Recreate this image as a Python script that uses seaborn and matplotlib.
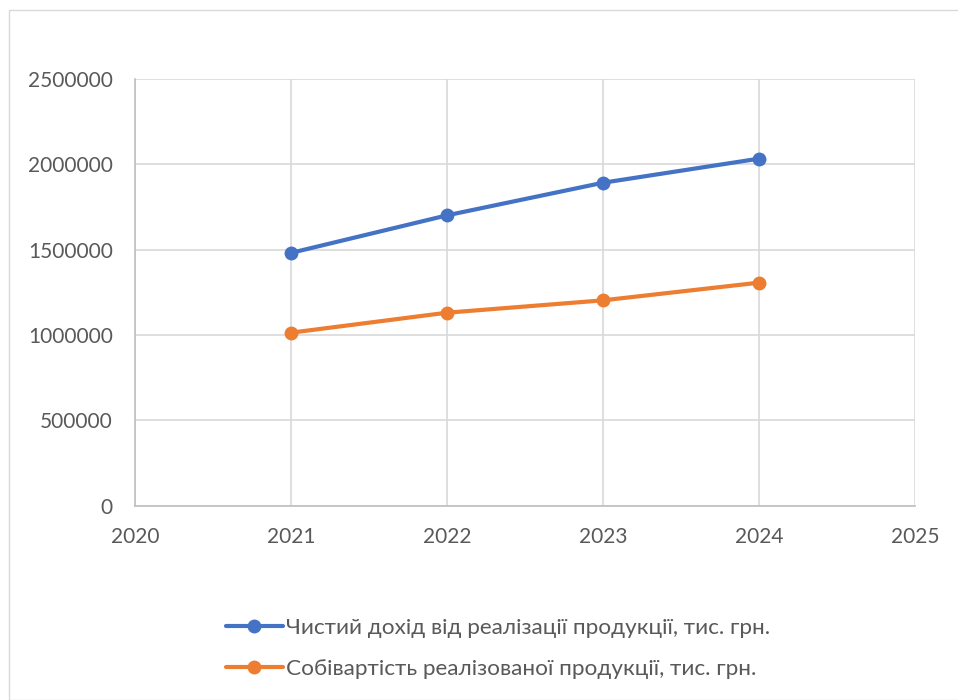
import matplotlib
matplotlib.use("Agg")
import matplotlib.pyplot as plt
import seaborn as sns
import pandas as pd
from matplotlib.patches import Rectangle

years = [2021, 2022, 2023, 2024]
revenue = [1481000, 1701000, 1892000, 2033000]
cost = [1013500, 1130700, 1203000, 1306600]
series_names = ["Чистий дохід від реалізації продукції, тис. грн.",
                "Собівартість реалізованої продукції, тис. грн."]
x_ticks = [2020, 2021, 2022, 2023, 2024, 2025]
y_ticks = [0, 500000, 1000000, 1500000, 2000000, 2500000]

df = pd.DataFrame({
    "year": years * 2,
    "value": revenue + cost,
    "series": [series_names[0]] * len(years) + [series_names[1]] * len(years),
})

sns.set_theme(style="white")
plt.rcParams['font.family'] = ['Lato', 'DejaVu Sans']

fig = plt.figure(figsize=(9.58, 7.0), dpi=100)
ax = fig.add_axes([0.1409, 0.2776, 0.8142, 0.6096])

palette = {series_names[0]: "#4472c4", series_names[1]: "#ed7d31"}
sns.lineplot(data=df, x="year", y="value", hue="series", palette=palette,
             marker="o", markersize=10, markeredgewidth=0, linewidth=3,
             ax=ax, legend=True)

ax.set_xlim(2020, 2025)
ax.set_ylim(0, 2500000)
ax.set_xticks(x_ticks)
ax.set_yticks(y_ticks)
ax.set_xticklabels([str(t) for t in x_ticks])
ax.set_yticklabels([str(t) for t in y_ticks])
ax.set_xlabel("")
ax.set_ylabel("")
ax.grid(True, color="#d9d9d9", linewidth=1.2)
ax.set_axisbelow(True)
for s in ["top", "right"]:
    ax.spines[s].set_visible(False)
for s in ["left", "bottom"]:
    ax.spines[s].set_color("#bfbfbf")
    ax.spines[s].set_linewidth(1.2)
ax.tick_params(axis="both", length=0, labelsize=15, labelcolor="#595959")
ax.tick_params(axis="y", pad=16)
ax.tick_params(axis="x", pad=15)

handles, labels = ax.get_legend_handles_labels()
ax.legend_.remove()
fig.legend(handles, labels, loc="center", bbox_to_anchor=(0.52, 0.0736),
           ncol=1, frameon=False, fontsize=16.2, labelcolor="#595959",
           handlelength=2.5, handletextpad=0.15, labelspacing=0.95)

fig.patches.append(Rectangle((9 / 958, 0), 1.2, 1 - 10 / 700, transform=fig.transFigure,
                             fill=False, edgecolor="#d9d9d9", linewidth=1))

fig.savefig("out.png", dpi=100, facecolor="white")
